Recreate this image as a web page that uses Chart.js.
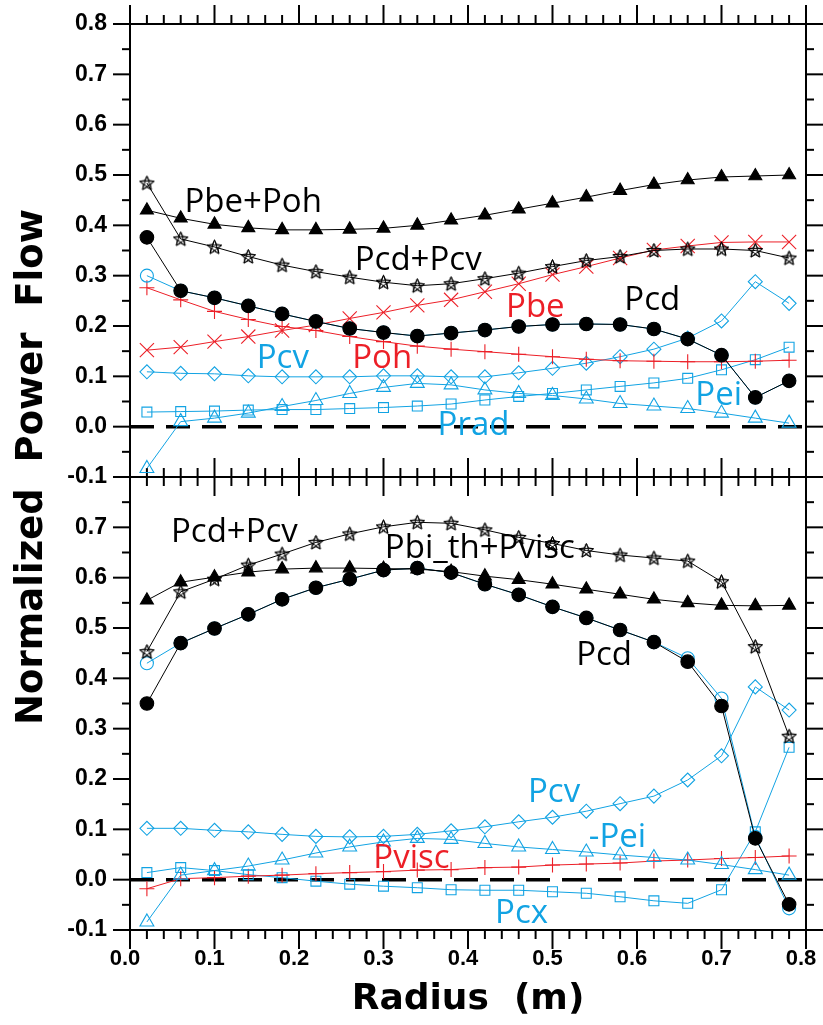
<!DOCTYPE html>
<html>
<head>
<meta charset="utf-8">
<title>Normalized Power Flow</title>
<script src="https://cdn.jsdelivr.net/npm/chart.js@4.4.1/dist/chart.umd.min.js"></script>
<style>
  html, body { margin: 0; padding: 0; background: #fff; }
  #wrap { width: 823px; height: 1025px; }
</style>
</head>
<body>
<div id="wrap"><canvas id="chart" width="823" height="1025"></canvas></div>
<script>
// ---- data -------------------------------------------------------------
const radius = [0.02, 0.06, 0.10, 0.14, 0.18, 0.22, 0.26, 0.30, 0.34, 0.38,
                0.42, 0.46, 0.50, 0.54, 0.58, 0.62, 0.66, 0.70, 0.74, 0.78];

// electron channel (upper panel)
const ePbePoh = [0.430, 0.414, 0.402, 0.395, 0.391, 0.391, 0.392, 0.394, 0.400, 0.410,
                 0.420, 0.432, 0.444, 0.456, 0.469, 0.481, 0.490, 0.496, 0.498, 0.500];
const ePcdPcv = [0.484, 0.373, 0.357, 0.338, 0.321, 0.308, 0.297, 0.287, 0.280, 0.284,
                 0.294, 0.305, 0.318, 0.330, 0.338, 0.350, 0.353, 0.353, 0.350, 0.335];
const ePbe    = [0.152, 0.158, 0.169, 0.179, 0.191, 0.202, 0.215, 0.227, 0.241, 0.252,
                 0.268, 0.284, 0.302, 0.318, 0.335, 0.351, 0.359, 0.366, 0.367, 0.367];
const ePoh    = [0.276, 0.252, 0.229, 0.213, 0.199, 0.191, 0.179, 0.169, 0.160, 0.154,
                 0.149, 0.144, 0.139, 0.134, 0.131, 0.130, 0.129, 0.129, 0.130, 0.132];
const ePcd    = [0.376, 0.270, 0.256, 0.240, 0.224, 0.209, 0.195, 0.187, 0.180, 0.186,
                 0.192, 0.199, 0.203, 0.204, 0.203, 0.194, 0.174, 0.142, 0.058, 0.091];
const ePcdRaw = [0.300, 0.270, 0.256, 0.240, 0.224, 0.209, 0.195, 0.187, 0.180, 0.186,
                 0.192, 0.199, 0.203, 0.204, 0.203, 0.194, 0.174, 0.142, 0.058, 0.091];
const ePcv    = [0.109, 0.106, 0.105, 0.101, 0.099, 0.099, 0.099, 0.101, 0.101, 0.099,
                 0.099, 0.107, 0.116, 0.126, 0.139, 0.154, 0.176, 0.210, 0.288, 0.245];
const ePei    = [0.029, 0.030, 0.031, 0.033, 0.034, 0.034, 0.036, 0.038, 0.041, 0.045,
                 0.053, 0.060, 0.066, 0.073, 0.080, 0.087, 0.096, 0.113, 0.133, 0.158];
const ePrad   = [-0.083, 0.010, 0.017, 0.027, 0.040, 0.052, 0.066, 0.078, 0.086, 0.083,
                 0.073, 0.066, 0.062, 0.055, 0.046, 0.041, 0.036, 0.027, 0.017, 0.007];

// ion channel (lower panel)
const iPbiPvisc = [0.555, 0.591, 0.601, 0.611, 0.617, 0.619, 0.619, 0.618, 0.617, 0.612,
                   0.603, 0.596, 0.587, 0.577, 0.567, 0.557, 0.550, 0.545, 0.544, 0.545];
const iPcdPcv   = [0.453, 0.572, 0.597, 0.625, 0.647, 0.670, 0.687, 0.701, 0.710, 0.708,
                   0.695, 0.680, 0.668, 0.654, 0.645, 0.639, 0.633, 0.592, 0.463, 0.285];
const iPcd      = [0.350, 0.470, 0.499, 0.527, 0.557, 0.580, 0.597, 0.615, 0.619, 0.610,
                   0.587, 0.566, 0.542, 0.520, 0.496, 0.472, 0.433, 0.345, 0.082, -0.049];
const iPcdRaw   = [0.430, 0.470, 0.499, 0.527, 0.557, 0.580, 0.597, 0.615, 0.619, 0.610,
                   0.587, 0.566, 0.542, 0.520, 0.496, 0.472, 0.440, 0.360, 0.085, -0.057];
const iPcv      = [0.102, 0.102, 0.098, 0.095, 0.090, 0.086, 0.085, 0.086, 0.090, 0.097,
                   0.105, 0.115, 0.124, 0.136, 0.151, 0.166, 0.198, 0.246, 0.383, 0.337];
const iMinusPei = [-0.084, 0.009, 0.018, 0.027, 0.039, 0.053, 0.065, 0.075, 0.082, 0.080,
                   0.072, 0.065, 0.060, 0.055, 0.049, 0.044, 0.039, 0.030, 0.020, 0.009];
const iPvisc    = [-0.018, 0.002, 0.004, 0.007, 0.009, 0.012, 0.014, 0.016, 0.019, 0.020,
                   0.024, 0.025, 0.029, 0.031, 0.033, 0.037, 0.039, 0.042, 0.044, 0.047];
const iPcx      = [0.014, 0.024, 0.018, 0.010, 0.004, -0.003, -0.009, -0.013, -0.016, -0.020,
                   -0.021, -0.021, -0.024, -0.027, -0.034, -0.042, -0.047, -0.020, 0.095, 0.263];

const xTickValues = [0.0, 0.1, 0.2, 0.3, 0.4, 0.5, 0.6, 0.7, 0.8];
const yTickValues = [-0.1, 0.0, 0.1, 0.2, 0.3, 0.4, 0.5, 0.6, 0.7, 0.8];

// ---- styling ------------------------------------------------------------
const BLACK = '#000000';
const RED = '#ec1f27';
const BLUE = '#12a3e3';
const LABEL_FONT = '33px "Open Sans", "Noto Sans", sans-serif';
const TICK_FAMILY = '"Liberation Sans", Arial, sans-serif';

// curve labels, anchored at (radius, value) of their left baseline
const upperLabels = [
  { text: 'Pbe+Poh', x: 0.0645, y: 0.4266, color: BLACK },
  { text: 'Pcd+Pcv', x: 0.266,  y: 0.311,  color: BLACK },
  { text: 'Pbe',     x: 0.445,  y: 0.2186, color: RED },
  { text: 'Pcd',     x: 0.585,  y: 0.232,  color: BLACK },
  { text: 'Pcv',     x: 0.150,  y: 0.116,  color: BLUE },
  { text: 'Poh',     x: 0.263,  y: 0.116,  color: RED },
  { text: 'Pei',     x: 0.669,  y: 0.043,  color: BLUE },
  { text: 'Prad',    x: 0.364,  y: -0.0165, color: BLUE }
];
const lowerLabels = [
  { text: 'Pcd+Pcv',      x: 0.0485, y: 0.6716, color: BLACK },
  { text: 'Pbi_th+Pvisc', x: 0.3016, y: 0.639,  color: BLACK },
  { text: 'Pcd',          x: 0.528,  y: 0.4266, color: BLACK },
  { text: 'Pcv',          x: 0.471,  y: 0.155,  color: BLUE },
  { text: '-Pei',         x: 0.543,  y: 0.0656, color: BLUE },
  { text: 'Pvisc',        x: 0.288,  y: 0.0227, color: RED },
  { text: 'Pcx',          x: 0.432,  y: -0.0866, color: BLUE }
];

// open five-pointed star marker
function makeStar(size, color) {
  const c = document.createElement('canvas');
  c.width = size; c.height = size;
  const g = c.getContext('2d');
  const cx = size / 2, cy = size / 2 + 0.5, r = size / 2 - 1;
  g.strokeStyle = color;
  g.lineWidth = 1;
  g.beginPath();
  for (let k = 0; k <= 5; k++) {
    const a = -Math.PI / 2 + k * 4 * Math.PI / 5;
    const px = cx + r * Math.cos(a), py = cy + r * Math.sin(a);
    if (k === 0) g.moveTo(px, py); else g.lineTo(px, py);
  }
  g.closePath();
  g.stroke();
  g.beginPath();
  for (let k = 0; k < 10; k++) {
    const a = -Math.PI / 2 + k * Math.PI / 5;
    const rr = k % 2 ? r * 0.5 : r;
    const px = cx + rr * Math.cos(a), py = cy + rr * Math.sin(a);
    if (k === 0) g.moveTo(px, py); else g.lineTo(px, py);
  }
  g.closePath();
  g.stroke();
  return c;
}
const starMarker = makeStar(17, BLACK);

function series(values, axis, color, style, radiusPx, filled, extra) {
  return Object.assign({
    data: radius.map((x, i) => ({ x: x, y: values[i] })),
    yAxisID: axis,
    borderColor: color,
    borderWidth: 1,
    tension: 0,
    fill: false,
    pointStyle: style,
    pointRadius: radiusPx,
    pointBorderColor: color,
    pointBackgroundColor: filled ? color : 'rgba(0,0,0,0)',
    pointBorderWidth: 1.1
  }, extra || {});
}

function zeroLine(axis) {
  return {
    data: [{ x: 0, y: 0 }, { x: 0.8, y: 0 }],
    yAxisID: axis,
    borderColor: BLACK,
    borderWidth: 3.5,
    borderDash: [24, 12],
    pointRadius: 0,
    fill: false
  };
}

const datasets = [
  // upper panel
  series(ePbePoh, 'yTop', BLACK, 'triangle', 7.5, true),
  series(ePcd,    'yTop', BLACK, 'circle', 6.8, true),
  series(ePcdPcv, 'yTop', BLACK, starMarker, 8, false),
  series(ePcdRaw, 'yTop', BLUE, 'circle', 6.5, false),
  series(ePbe,    'yTop', RED, 'crossRot', 10, false),
  series(ePoh,    'yTop', RED, 'cross', 7.5, false),
  series(ePcv,    'yTop', BLUE, 'rectRot', 7, false),
  series(ePei,    'yTop', BLUE, 'rect', 7, false),
  series(ePrad,   'yTop', BLUE, 'triangle', 8, false),
  zeroLine('yTop'),
  // lower panel
  series(iPbiPvisc, 'yBot', BLACK, 'triangle', 7.5, true),
  series(iPcd,      'yBot', BLACK, 'circle', 6.8, true),
  series(iPcdPcv,   'yBot', BLACK, starMarker, 8, false),
  series(iPcdRaw,   'yBot', BLUE, 'circle', 6.5, false),
  series(iPcv,      'yBot', BLUE, 'rectRot', 7, false),
  series(iMinusPei, 'yBot', BLUE, 'triangle', 8, false),
  series(iPvisc,    'yBot', RED, 'cross', 7.5, false),
  series(iPcx,      'yBot', BLUE, 'rect', 7, false),
  zeroLine('yBot')
];

const fmt = v => (Math.abs(v) < 1e-9 ? '0.0' : v.toFixed(1));

function yScale(weight, hideTop) {
  return {
    type: 'linear',
    position: 'left',
    stack: 'panels',
    stackWeight: 1,
    weight: weight,
    min: -0.1,
    max: 0.8,
    afterFit: s => { s.width = 130; s.paddingTop = 0; s.paddingBottom = 0; },
    afterBuildTicks: s => { s.ticks = yTickValues.map(v => ({ value: v })); },
    grid: { display: false, drawTicks: false },
    border: { display: false },
    ticks: {
      padding: 23,
      color: BLACK,
      autoSkip: false,
      font: { family: TICK_FAMILY, size: 23, weight: 'bold' },
      callback: v => (hideTop && v > 0.75 ? '' : fmt(v))
    }
  };
}

// frame with inward/outward tick marks on both panels
const framePlugin = {
  id: 'frame',
  beforeDatasetsDraw(chart) {
    const { ctx, chartArea: a, scales } = chart;
    const xs = scales.x, yt = scales.yTop, yb = scales.yBot;
    const mid = yt.getPixelForValue(-0.1);
    const seg = (x1, y1, x2, y2) => { ctx.beginPath(); ctx.moveTo(x1, y1); ctx.lineTo(x2, y2); ctx.stroke(); };
    ctx.save();
    ctx.strokeStyle = BLACK;
    ctx.lineWidth = 2;
    ctx.strokeRect(a.left, a.top, a.right - a.left, a.bottom - a.top);
    seg(a.left, mid, a.right, mid);
    for (let k = 0; k <= 40; k++) {
      const px = xs.getPixelForValue(k * 0.02);
      const len = k % 5 === 0 ? 19 : 9;
      seg(px, a.top, px, a.top - len);
      seg(px, mid, px, mid - len);
      seg(px, mid, px, mid + len);
      seg(px, a.bottom, px, a.bottom + len);
    }
    for (const ys of [yt, yb]) {
      for (let k = 0; k <= 18; k++) {
        const py = ys.getPixelForValue(-0.1 + k * 0.05);
        const len = k % 2 === 0 ? 17 : 8;
        seg(a.left - len, py, a.left, py);
        seg(a.right, py, a.right + len, py);
      }
    }
    ctx.restore();
  },
  afterDraw(chart) {
    const { ctx, chartArea: a, scales } = chart;
    const xs = scales.x;
    ctx.save();
    ctx.font = LABEL_FONT;
    ctx.textAlign = 'left';
    ctx.textBaseline = 'alphabetic';
    const put = (list, ys) => list.forEach(l => {
      ctx.fillStyle = l.color;
      ctx.fillText(l.text, xs.getPixelForValue(l.x), ys.getPixelForValue(l.y));
    });
    put(upperLabels, scales.yTop);
    put(lowerLabels, scales.yBot);

    // shared vertical axis title
    ctx.fillStyle = BLACK;
    ctx.font = 'bold 37px "DejaVu Sans", sans-serif';
    ctx.textAlign = 'center';
    ctx.translate(a.left - 88, (a.top + a.bottom) / 2 - 10);
    ctx.rotate(-Math.PI / 2);
    ctx.fillText('Normalized  Power  Flow', 0, 0);
    ctx.restore();
  }
};

new Chart(document.getElementById('chart'), {
  type: 'line',
  data: { datasets: datasets },
  options: {
    responsive: false,
    animation: false,
    devicePixelRatio: 1,
    layout: { padding: { top: 24, right: 17, left: 0, bottom: 0 } },
    plugins: { legend: { display: false }, tooltip: { enabled: false } },
    scales: {
      x: {
        type: 'linear',
        position: 'bottom',
        min: 0,
        max: 0.8,
        afterFit: s => { s.height = 95; s.paddingLeft = 0; s.paddingRight = 0; },
        afterBuildTicks: s => { s.ticks = xTickValues.map(v => ({ value: v })); },
        grid: { display: false, drawTicks: false },
        border: { display: false },
        ticks: {
          padding: 16,
          labelOffset: -5,
          maxRotation: 0,
          autoSkip: false,
          color: BLACK,
          font: { family: TICK_FAMILY, size: 22, weight: 'bold' },
          callback: v => fmt(v)
        },
        title: {
          display: true,
          text: 'Radius  (m)',
          color: BLACK,
          font: { family: '"DejaVu Sans", sans-serif', size: 36, weight: 'bold' },
          padding: { top: 0, bottom: 4 }
        }
      },
      yBot: yScale(1, true),
      yTop: yScale(2, false)
    }
  },
  plugins: [framePlugin]
});
</script>
</body>
</html>
